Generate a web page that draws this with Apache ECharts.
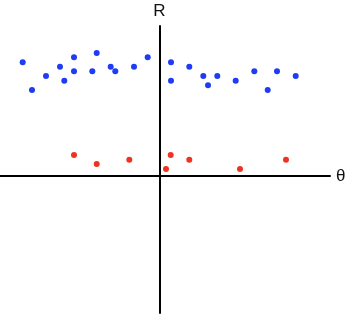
<!DOCTYPE html>
<html>
<head>
<meta charset="utf-8">
<script src="https://cdn.jsdelivr.net/npm/echarts@6/dist/echarts.min.js"></script>
<style>html,body{margin:0;padding:0;background:#fff;}#c{width:349px;height:316px;}</style>
</head>
<body>
<div id="c"></div>
<script>
// Blue group: [theta, R]
const blueTheta = [-136.6,-127.3,-113.3,-99.3,-95,-85.3,-85.3,-67,-62.6,-48.6,-44,-25.3,-11.6,11.7,11.7,30,44,48.7,58,76.4,95,108.4,117.7,136.4];
const blueR     = [113.7,86,100,109.3,95.3,118.7,104.7,104.7,123,109.3,104.7,109.3,118.7,113.7,95.3,109.3,100,90.7,100,95.3,104.7,86,104.7,100];
// Red group
const redTheta = [-85.3,-62.6,-30,11.4,6.7,30,80.7,126.7];
const redR     = [21,12,16.3,21,7,16.3,7,16.3];
const axisNames = {x: 'θ', y: 'R'};

const zip = (a, b) => a.map((v, i) => [v, b[i]]);
const chart = echarts.init(document.getElementById('c'));
const hidden = {show: false};
chart.setOption({
  animation: false,
  grid: {left: 0, right: 19, top: 26, bottom: 3},
  xAxis: {
    type: 'value', min: -159.3, max: 170.7,
    name: axisNames.x, nameLocation: 'end', nameGap: 6,
    nameTextStyle: {fontFamily: 'Liberation Sans', fontSize: 17, color: '#111', verticalAlign: 'middle'},
    axisLine: {onZero: true, lineStyle: {color: '#000', width: 2}},
    axisTick: hidden, axisLabel: hidden, splitLine: hidden
  },
  yAxis: {
    type: 'value', min: -137, max: 150,
    name: axisNames.y, nameLocation: 'end', nameGap: 6,
    nameTextStyle: {fontFamily: 'Liberation Sans', fontSize: 17, color: '#111', align: 'center'},
    axisLine: {onZero: true, lineStyle: {color: '#000', width: 2}},
    axisTick: hidden, axisLabel: hidden, splitLine: hidden
  },
  series: [
    {type: 'scatter', data: zip(blueTheta, blueR), symbolSize: 6, itemStyle: {color: '#1f3cf5', opacity: 1}},
    {type: 'scatter', data: zip(redTheta, redR), symbolSize: 6, itemStyle: {color: '#ee3322', opacity: 1}}
  ]
});
</script>
</body>
</html>
